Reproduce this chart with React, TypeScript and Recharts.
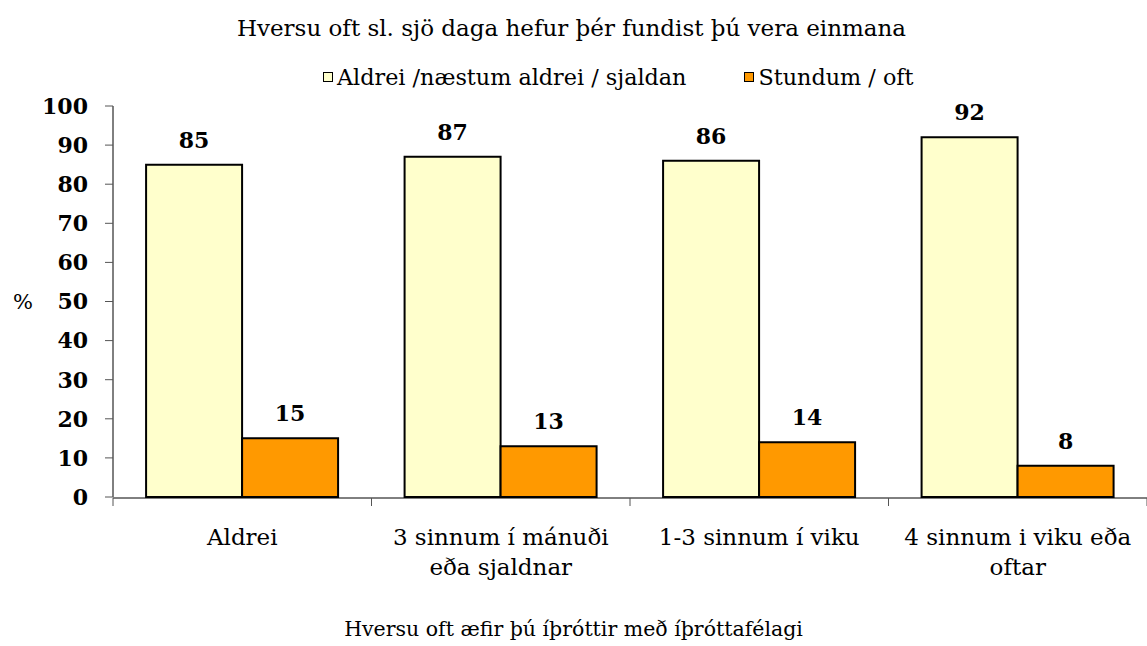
import { BarChart, Bar, XAxis, YAxis, Legend, LabelList, Label } from 'recharts'

const CATEGORIES = ['Aldrei', '3 sinnum í mánuði\neða sjaldnar', '1-3 sinnum í viku', '4 sinnum i viku eða\noftar']
const RARELY = [85, 87, 86, 92]
const SOMETIMES = [15, 13, 14, 8]
const Y_TICKS = [0, 10, 20, 30, 40, 50, 60, 70, 80, 90, 100]
const EDGE_TICKS = [0, 1, 2, 3, 4]

const SERIES = [
  { key: 'rarely', name: 'Aldrei /næstum aldrei / sjaldan', color: '#FFFFCC' },
  { key: 'sometimes', name: 'Stundum / oft', color: '#FF9900' },
]

const FONT = '"DejaVu Serif", serif'

const data = CATEGORIES.map((c, i) => ({
  cat: c,
  pos: i + 0.5,
  rarely: RARELY[i],
  sometimes: SOMETIMES[i],
}))

function CategoryTick(props: any) {
  const { x, y, payload } = props
  const lines = String(payload.value).split('\n')
  return (
    <text x={x} y={y} textAnchor="middle" fontSize={23} fontFamily={FONT} fill="#000">
      {lines.map((l, i) => (
        <tspan key={i} x={x} dy={i === 0 ? 46 : 30}>{l}</tspan>
      ))}
    </text>
  )
}

const NoTick = () => <g />

function LegendContent() {
  return (
    <div style={{ display: 'flex', alignItems: 'center', fontFamily: FONT, fontSize: 22.3, paddingLeft: 323 }}>
      {SERIES.map((s, i) => (
        <div key={s.key} style={{ display: 'flex', alignItems: 'center', marginRight: i === 0 ? 58 : 0 }}>
          <span style={{ display: 'inline-block', width: 8, height: 8, background: s.color, border: '1.5px solid #000', marginRight: 4 }} />
          <span>{s.name}</span>
        </div>
      ))}
    </div>
  )
}

export default function App() {
  return (
    <div style={{ position: 'relative', width: 1147, height: 646, fontFamily: FONT, background: '#fff' }}>
      <style>{`body{margin:0}`}</style>
      <div style={{ position: 'absolute', top: 15, left: 0, width: 1143, textAlign: 'center', fontSize: 23 }}>
        Hversu oft sl. sjö daga hefur þér fundist þú vera einmana
      </div>
      <div style={{ position: 'absolute', top: 617, left: 0, width: 1147, textAlign: 'center', fontSize: 20.5 }}>
        Hversu oft æfir þú íþróttir með íþróttafélagi
      </div>
      <BarChart
        width={1147}
        height={646}
        data={data}
        margin={{ top: 106, right: 0, bottom: 147, left: 0 }}
        barCategoryGap="12.8%"
        barGap={0}
      >
        <XAxis
          dataKey="cat"
          xAxisId="cat"
          height={1}
          tickSize={0}
          tickLine={false}
          axisLine={false}
          interval={0}
          tick={<CategoryTick />}
        />
        <XAxis
          xAxisId="edges"
          type="number"
          dataKey="pos"
          domain={[0, 4]}
          ticks={EDGE_TICKS}
          interval={0}
          height={1}
          tick={<NoTick />}
          tickSize={8}
          axisLine={{ stroke: '#000' }}
          tickLine={{ stroke: '#555' }}
        />
        <YAxis
          width={113}
          domain={[0, 100]}
          ticks={Y_TICKS}
          interval={0}
          tickSize={8}
          tickMargin={17}
          axisLine={{ stroke: '#000' }}
          tickLine={{ stroke: '#555' }}
          tick={{ fontSize: 22, fontWeight: 'bold', fontFamily: FONT, fill: '#000' }}
        >
          <Label value="%" position="insideLeft" offset={13} fontSize={21} fontFamily={FONT} fill="#000" />
        </YAxis>
        <Legend
          layout="horizontal"
          verticalAlign="middle"
          align="center"
          content={<LegendContent />}
          wrapperStyle={{ top: 64, left: 0, width: 1147 }}
        />
        {SERIES.map(s => (
          <Bar key={s.key} xAxisId="cat" dataKey={s.key} name={s.name} fill={s.color} stroke="#000" strokeWidth={2} isAnimationActive={false}>
            <LabelList dataKey={s.key} position="top" offset={17} fontSize={22} fontWeight="bold" fontFamily={FONT} fill="#000" />
          </Bar>
        ))}
      </BarChart>
    </div>
  )
}
